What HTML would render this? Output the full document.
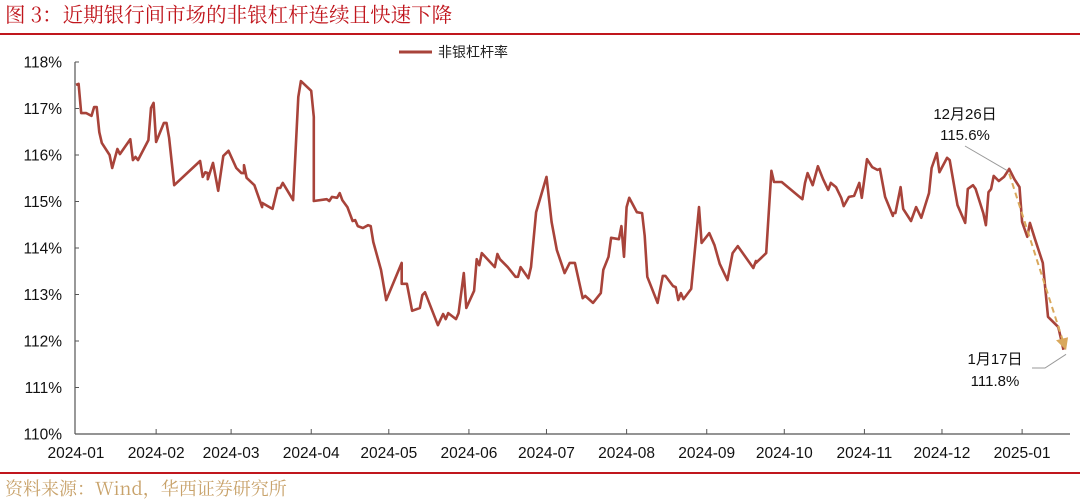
<!DOCTYPE html>
<html><head><meta charset="utf-8">
<style>
body{margin:0;background:#fff;}
#wrap{position:relative;width:1080px;height:504px;overflow:hidden;font-family:"Liberation Sans","Noto Sans CJK SC",sans-serif;}
</style></head>
<body>
<div id="wrap">
<svg id="chart" width="1080" height="504">
<text x="5" y="22" font-size="20.5" fill="#c0161d" font-family="'Noto Serif CJK SC','Liberation Serif',serif">图 3：近期银行间市场的非银杠杆连续且快速下降</text>
<line x1="0" y1="34" x2="1080" y2="34" stroke="#c0161d" stroke-width="2"/>
<line x1="0" y1="473" x2="1080" y2="473" stroke="#c0161d" stroke-width="2"/>
<text x="5" y="495" font-size="18" fill="#c8a26a" font-family="'Noto Serif CJK SC','Liberation Serif',serif">资料来源：Wind，华西证券研究所</text>
<g>
<line x1="399" y1="52" x2="432" y2="52" stroke="#a8433a" stroke-width="3"/>
<text x="438" y="57" font-size="14" fill="#222">非银杠杆率</text>
</g>
<g id="axes"></g>
<g id="marks"></g>
</svg>
</div>
<script>
const days=[0,1,2,4,6,7,8,9,10,13,14,16,17,21,22,23,24,28,29,30,31,34,35,36,38,48,49,50,51,51,53,55,57,59,62,64,65,65,66,69,72,72,76,78,79,80,84,86,87,91,92,92,97,98,99,101,102,103,105,107,108,109,111,113,114,115,118,120,126,126,128,130,133,134,135,140,142,143,144,147,148,150,151,154,155,156,157,162,163,164,167,170,171,172,175,176,178,178,182,184,186,189,191,193,196,197,200,203,204,206,207,210,211,212,213,214,217,219,220,221,225,227,228,231,232,233,234,235,238,241,242,245,247,249,252,254,256,262,263,263,267,269,270,273,281,282,283,285,287,289,291,292,294,296,297,299,301,303,304,306,308,310,311,313,316,316,317,319,320,323,325,327,330,331,333,334,337,338,341,344,345,347,348,351,352,353,354,355,357,359,361,363,365,366,368,369,371,374,376,380,382];
const values=[117.51,117.53,116.90,116.90,116.84,117.03,117.03,116.49,116.26,116.00,115.72,116.13,116.02,116.34,115.89,115.96,115.89,116.32,117.01,117.12,116.28,116.69,116.69,116.37,115.35,115.87,115.53,115.63,115.61,115.48,115.83,115.23,115.98,116.09,115.72,115.61,115.61,115.78,115.51,115.35,114.88,114.97,114.84,115.29,115.29,115.40,115.03,117.25,117.59,117.38,116.82,115.01,115.05,115.01,115.10,115.08,115.18,115.03,114.88,114.58,114.60,114.47,114.43,114.49,114.47,114.13,113.53,112.88,113.68,113.23,113.23,112.65,112.71,112.99,113.05,112.34,112.58,112.47,112.60,112.47,112.60,113.46,112.71,113.08,113.76,113.63,113.89,113.59,113.87,113.76,113.59,113.38,113.38,113.59,113.35,113.59,114.77,114.77,115.53,114.56,113.96,113.46,113.68,113.68,112.92,112.97,112.82,113.03,113.53,113.81,114.22,114.19,114.47,113.81,114.88,115.08,114.77,114.75,114.26,113.38,112.82,113.40,113.40,113.18,113.16,112.88,113.03,112.90,113.12,114.88,114.11,114.32,114.06,113.66,113.31,113.89,114.04,113.57,113.72,113.68,113.89,115.66,115.42,115.42,115.05,115.40,115.61,115.35,115.76,115.48,115.25,115.40,115.31,115.08,114.90,115.10,115.12,115.40,115.08,115.91,115.74,115.68,115.70,115.10,114.69,114.75,114.75,115.31,114.84,114.58,114.88,114.65,115.18,115.72,116.04,115.63,115.94,115.89,114.92,114.54,115.27,115.35,115.27,114.75,114.49,115.20,115.27,115.55,115.44,115.53,115.70,115.48,115.31,114.56,114.24,114.54,114.19,113.68,112.52,112.30,111.81];
const yTicks=[110,111,112,113,114,115,116,117,118];
const xTickDays=[0,31,60,91,121,152,182,213,244,274,305,335,366];
const xTickLabels=["2024-01","2024-02","2024-03","2024-04","2024-05","2024-06","2024-07","2024-08","2024-09","2024-10","2024-11","2024-12","2025-01"];
const annoStart=[361,115.6], annoEnd=[383,111.8];

const X0=76,PXD=2.585,Y0=62,PXV=46.5;
const xs=d=>X0+d*PXD;
const ys=v=>Y0+(118-v)*PXV;
const NS="http://www.w3.org/2000/svg";
const axes=document.getElementById('axes'),marks=document.getElementById('marks');
function mk(tag,attrs,parent){const e=document.createElementNS(NS,tag);for(const k in attrs)e.setAttribute(k,attrs[k]);parent.appendChild(e);return e;}

let yl=mk('line',{x1:75,y1:ys(118),x2:75,y2:ys(110),stroke:'#555','stroke-width':1.2},axes);


let xl=mk('line',{x1:75,y1:ys(110),x2:1070,y2:ys(110),stroke:'#555','stroke-width':1.2},axes);


yTicks.forEach(v=>{
  const t=mk('line',{x1:75,y1:ys(v),x2:79,y2:ys(v),stroke:'#555'},axes);
  
  
  const l=mk('text',{x:62,y:ys(v)+5.5,'font-size':15.5,'text-anchor':'end',fill:'#111'},axes);
  l.textContent=v+'%';
  
  
});
xTickDays.forEach((d,i)=>{
  if(i>0){const t=mk('line',{x1:xs(d),y1:ys(110),x2:xs(d),y2:ys(110)-5,stroke:'#555'},axes);
  
  }
  const l=mk('text',{x:xs(d),y:458,'font-size':15.5,'text-anchor':'middle',fill:'#111'},axes);
  l.textContent=xTickLabels[i];
  
  
});
let dstr=days.map((d,i)=>(i?'L':'M')+xs(d).toFixed(1)+','+ys(values[i]).toFixed(1)).join('');
const line=mk('path',{d:dstr,fill:'none',stroke:'#a8433a','stroke-width':2.6,'stroke-linejoin':'round'},marks);


const ax1=xs(annoStart[0]),ay1=ys(annoStart[1]),ax2=xs(annoEnd[0]),ay2=ys(annoEnd[1]);
const ar=mk('line',{x1:ax1,y1:ay1,x2:ax2-3,y2:ay2-9,stroke:'#d9a85c','stroke-width':2,'stroke-dasharray':'6,4'},marks);


const ah=mk('polygon',{points:`${ax2},${ay2} ${ax2-10},${ay2-10} ${ax2+2},${ay2-13}`,fill:'#d9a85c'},marks);


const c1=mk('polyline',{points:`965,146 ${ax1-2},${ay1-3}`,fill:'none',stroke:'#999'},marks);


const c2=mk('polyline',{points:`1032,368 1045,368 ${ax2},${ay2+4}`,fill:'none',stroke:'#999'},marks);


[['12月26日',965,119,'peak-date-label'],['115.6%',965,140,'peak-value-label'],['1月17日',995,364,'end-date-label'],['111.8%',995,386,'end-value-label']].forEach(a=>{
  const t=mk('text',{x:a[1],y:a[2],'font-size':15,'text-anchor':'middle',fill:'#111'},marks);
  t.textContent=a[0];
  
  
});
</script>
</body></html>
